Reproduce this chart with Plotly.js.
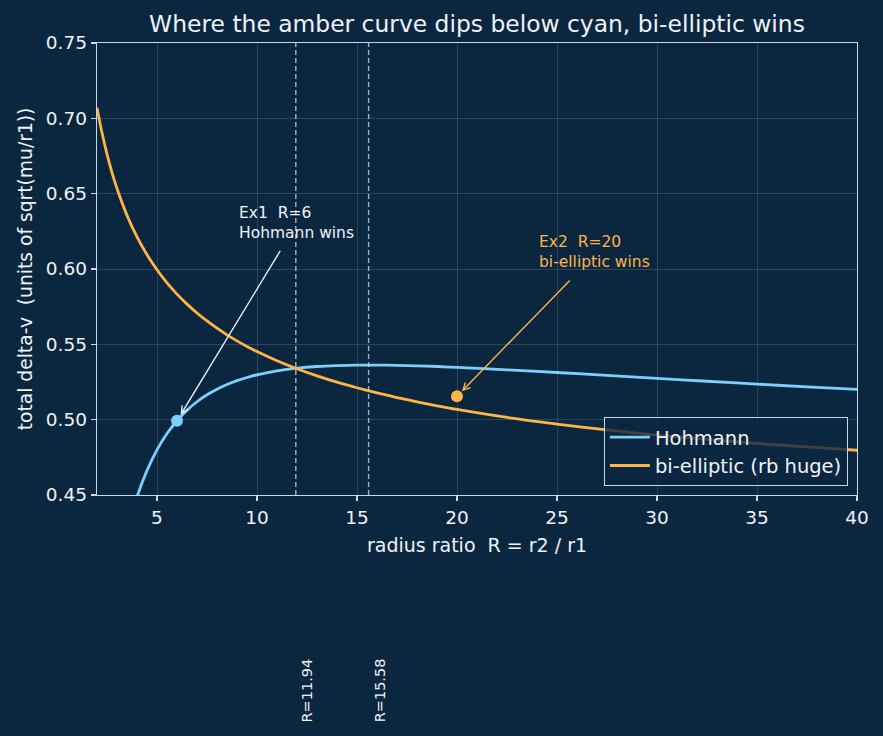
<!DOCTYPE html>
<html>
<head>
<meta charset="utf-8">
<script src="https://cdn.plot.ly/plotly-3.0.1.min.js"></script>
<style>
  html, body { margin: 0; padding: 0; background: #0b2740; }
  #chart { width: 883px; height: 736px; }
</style>
</head>
<body>
<div id="chart"></div>
<script>
// Radius ratio R = r2 / r1
const radiusRatio = [2, 2.25, 2.5, 2.75, 3, 3.5, 4, 4.5, 5, 5.5, 6, 6.5, 7, 7.5, 8, 8.5, 9, 9.5, 10,
                     11, 12, 13, 14, 15, 16, 17, 18, 19, 20, 22.5, 25, 27.5, 30, 32.5, 35, 37.5, 40];

// Total delta-v, units of sqrt(mu/r1)
const hohmannDv = [0.2844, 0.3204, 0.3496, 0.3737, 0.3938, 0.4254, 0.4487, 0.4663, 0.4800, 0.4908,
                   0.4993, 0.5063, 0.5119, 0.5165, 0.5202, 0.5233, 0.5259, 0.5280, 0.5298,
                   0.5324, 0.5342, 0.5353, 0.5359, 0.5362, 0.5362, 0.5361, 0.5357, 0.5353, 0.5347,
                   0.5331, 0.5313, 0.5294, 0.5274, 0.5255, 0.5236, 0.5218, 0.5201];
const biEllipticDv = [0.7071, 0.6904, 0.6762, 0.6640, 0.6534, 0.6356, 0.6213, 0.6095, 0.5995, 0.5908,
                      0.5833, 0.5767, 0.5708, 0.5655, 0.5607, 0.5563, 0.5523, 0.5486, 0.5452,
                      0.5391, 0.5338, 0.5291, 0.5249, 0.5212, 0.5178, 0.5147, 0.5118, 0.5092, 0.5068,
                      0.5015, 0.4971, 0.4932, 0.4898, 0.4869, 0.4842, 0.4819, 0.4797];

// Crossover ratio and Hohmann maximum
const markerR = [11.94, 15.58];
const markerLabels = ['R=11.94', 'R=15.58'];

// Worked examples
const ex1 = { R: 6, dv: 0.4993, label: 'Ex1  R=6<br>Hohmann wins', textR: 9, textDv: 0.6166, tailR: 11.21, tailDv: 0.6131 };
const ex2 = { R: 20, dv: 0.5155, label: 'Ex2  R=20<br>bi-elliptic wins', textR: 24, textDv: 0.5973, tailR: 25.71, tailDv: 0.5934 };

const CYAN = '#7dcffc';
const AMBER = '#ffb446';
const BG = '#0b2740';
const FG = '#eef3f8';
const SPINE = '#c9d9e8';
const FONT = 'DejaVu Sans, sans-serif';

const traces = [
  { x: radiusRatio, y: hohmannDv, mode: 'lines', name: 'Hohmann',
    line: { color: CYAN, width: 2.8, shape: 'spline', smoothing: 0.8 } },
  { x: radiusRatio, y: biEllipticDv, mode: 'lines', name: 'bi-elliptic (rb huge)',
    line: { color: AMBER, width: 2.8, shape: 'spline', smoothing: 0.8 } },
  { x: [ex1.R], y: [ex1.dv], mode: 'markers', showlegend: false, hoverinfo: 'skip',
    marker: { color: CYAN, size: 12 } },
  { x: [ex2.R], y: [ex2.dv], mode: 'markers', showlegend: false, hoverinfo: 'skip',
    marker: { color: AMBER, size: 12 } }
];

const shapes = markerR.map(r => ({
  type: 'line', xref: 'x', yref: 'paper', x0: r, x1: r, y0: 0, y1: 1,
  line: { color: 'rgba(200,214,228,0.8)', width: 1.4, dash: '5px,3px' }, layer: 'above'
}));

const annotations = [
  { x: ex1.textR, y: ex1.textDv, xref: 'x', yref: 'y', text: ex1.label, showarrow: false,
    xanchor: 'left', yanchor: 'bottom', align: 'left', font: { family: FONT, size: 15.5, color: FG } },
  { x: ex1.R, y: ex1.dv, ax: ex1.tailR, ay: ex1.tailDv, xref: 'x', yref: 'y', axref: 'x', ayref: 'y',
    text: '', showarrow: true, arrowhead: 5, arrowsize: 1, arrowwidth: 1.4, arrowcolor: FG, standoff: 7 },
  { x: ex2.textR, y: ex2.textDv, xref: 'x', yref: 'y', text: ex2.label, showarrow: false,
    xanchor: 'left', yanchor: 'bottom', align: 'left', font: { family: FONT, size: 15.5, color: AMBER } },
  { x: ex2.R, y: ex2.dv, ax: ex2.tailR, ay: ex2.tailDv, xref: 'x', yref: 'y', axref: 'x', ayref: 'y',
    text: '', showarrow: true, arrowhead: 5, arrowsize: 1, arrowwidth: 1.4, arrowcolor: AMBER, standoff: 7 }
].concat(markerR.map((r, i) => ({
  x: r, y: -0.433, xref: 'x', yref: 'paper', text: markerLabels[i], showarrow: false,
  textangle: -90, xshift: 11, xanchor: 'center', yanchor: 'middle',
  font: { family: FONT, size: 14.5, color: FG }
})));

const layout = {
  width: 883, height: 736,
  paper_bgcolor: BG, plot_bgcolor: BG,
  margin: { l: 97, r: 26, t: 43, b: 241 },
  font: { family: FONT, color: FG, size: 18 },
  title: { text: 'Where the amber curve dips below cyan, bi-elliptic wins',
           font: { family: FONT, size: 23.4, color: FG },
           x: 0.5, xref: 'paper', xanchor: 'center', y: 0.967, yref: 'container', yanchor: 'middle' },
  xaxis: {
    range: [2, 40], tickvals: [5, 10, 15, 20, 25, 30, 35, 40],
    showgrid: true, gridcolor: 'rgba(255,255,255,0.17)', gridwidth: 0.8,
    showline: true, linecolor: SPINE, linewidth: 1.3, mirror: true,
    ticks: 'outside', ticklen: 5, tickwidth: 1.3, tickcolor: SPINE,
    tickfont: { family: FONT, size: 18.5, color: FG }, zeroline: false,
    title: { text: 'radius ratio  R = r2 / r1', font: { family: FONT, size: 19, color: FG }, standoff: 12 }
  },
  yaxis: {
    range: [0.45, 0.75], dtick: 0.05, tickformat: '.2f',
    showgrid: true, gridcolor: 'rgba(255,255,255,0.17)', gridwidth: 0.8,
    showline: true, linecolor: SPINE, linewidth: 1.3, mirror: true,
    ticks: 'outside', ticklen: 5, tickwidth: 1.3, tickcolor: SPINE,
    tickfont: { family: FONT, size: 18.5, color: FG }, zeroline: false,
    title: { text: 'total delta-v  (units of sqrt(mu/r1))', font: { family: FONT, size: 18.7, color: FG }, standoff: 8 }
  },
  legend: {
    x: 0.988, y: 0.02, xanchor: 'right', yanchor: 'bottom',
    bgcolor: 'rgba(11,39,64,0.8)', bordercolor: SPINE, borderwidth: 1,
    itemwidth: 40,
    font: { family: FONT, size: 19.5, color: FG }
  },
  shapes: shapes,
  annotations: annotations,
  showlegend: true
};

Plotly.newPlot('chart', traces, layout, { displayModeBar: false, staticPlot: true });
</script>
</body>
</html>
